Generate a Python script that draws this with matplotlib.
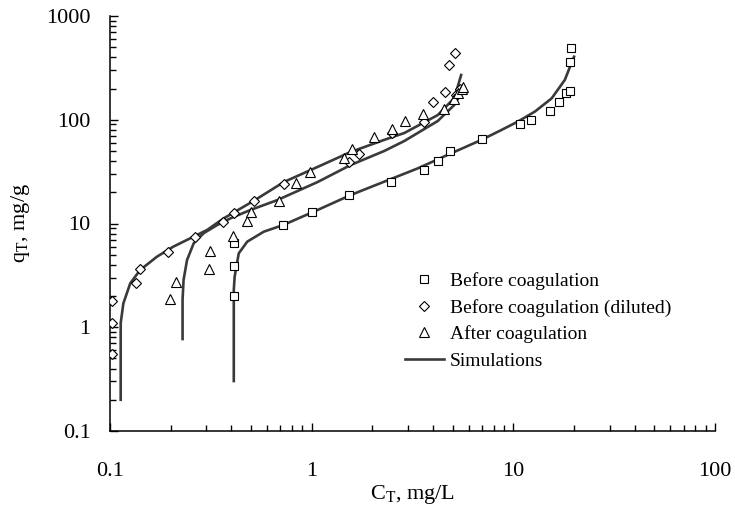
from matplotlib import pyplot as plt
from matplotlib.lines import Line2D
from matplotlib import ticker
import numpy as np

# measured points
BEFORE_C = [0.414, 0.414, 0.414, 0.723, 1.00, 1.53, 2.47, 3.59, 4.25, 4.86, 6.99,
            10.8, 12.2, 15.2, 16.9, 18.2, 19.0, 19.0, 19.4]
BEFORE_Q = [2.0, 3.89, 6.53, 9.6, 12.8, 18.7, 25.0, 32.8, 39.8, 50.3, 65.6,
            90.0, 98.8, 121, 148, 182, 191, 364, 488]

DILUTED_C = [0.102, 0.102, 0.102, 0.134, 0.1415, 0.194, 0.263, 0.365, 0.411, 0.515,
             0.728, 1.54, 1.71, 2.49, 3.61, 4.01, 4.60, 4.82, 5.13, 5.21, 5.45]
DILUTED_Q = [1.80, 1.09, 0.548, 2.69, 3.62, 5.31, 7.46, 10.3, 12.7, 16.5,
             24.0, 39.2, 47.1, 74.0, 94.5, 147, 184, 340, 440, 173, 198]

AFTER_C = [0.199, 0.213, 0.308, 0.315, 0.405, 0.476, 0.499, 0.688, 0.832, 0.985,
           1.45, 1.59, 2.03, 2.49, 2.89, 3.58, 4.52, 5.10, 5.34, 5.58, 5.62]
AFTER_Q = [1.86, 2.75, 3.62, 5.43, 7.58, 10.5, 12.9, 16.6, 24.4, 31.6,
           42.5, 52.6, 67.7, 80.9, 97.3, 113, 126, 157, 180, 196, 208]

# simulation curves
SIM_BEFORE_C = [0.411, 0.411, 0.415, 0.435, 0.479, 0.579, 0.723, 1.07, 1.56, 2.29, 3.36,
                4.92, 6.93, 8.72, 10.5, 12.8, 15.5, 18.0, 19.4, 20.0]
SIM_BEFORE_Q = [0.303, 2.29, 3.07, 5.16, 6.68, 8.34, 9.67, 13.5, 18.8, 25.3, 34.0,
                47.5, 63.8, 79.6, 95.7, 120, 161, 242, 350, 405]

SIM_DILUTED_C = [0.113, 0.113, 0.1165, 0.126, 0.141, 0.171, 0.206, 0.250, 0.303, 0.366,
                 0.515, 0.728, 1.07, 1.56, 2.28, 2.88, 4.22, 5.10, 5.51]
SIM_DILUTED_Q = [0.2, 1.10, 1.70, 2.65, 3.56, 4.79, 5.98, 7.2, 8.66, 11.2,
                 16.5, 25.1, 35.1, 48.9, 63.8, 74.5, 111, 162, 270]

SIM_AFTER_C = [0.229, 0.229, 0.2316, 0.241, 0.260, 0.291, 0.340, 0.395, 0.497, 0.675,
               1.07, 1.56, 2.29, 2.88, 4.22, 5.10, 5.72]
SIM_AFTER_Q = [0.77, 1.83, 2.85, 4.45, 6.44, 8.05, 9.67, 11.2, 13.5, 16.8,
               25.1, 36.6, 50.0, 62.4, 97.3, 139, 207]

LABELS = ['Before coagulation', 'Before coagulation (diluted)', 'After coagulation', 'Simulations']

plt.rcParams['font.family'] = ['Liberation Serif', 'DejaVu Serif']
plt.rcParams['mathtext.fontset'] = 'custom'
plt.rcParams['mathtext.rm'] = 'Liberation Serif'

fig = plt.figure(figsize=(7.35, 5.2), dpi=100)
ax = fig.add_axes([110/735, 1-431/520, 605/735, 415/520])

line_c = '#3a3a3a'
for cx, cy in [(SIM_BEFORE_C, SIM_BEFORE_Q), (SIM_DILUTED_C, SIM_DILUTED_Q), (SIM_AFTER_C, SIM_AFTER_Q)]:
    ax.plot(cx, cy, color=line_c, lw=1.9, zorder=2)

mk = dict(ls='none', mfc='white', mec='black', mew=0.8, zorder=3)
ax.plot(BEFORE_C, BEFORE_Q, marker='s', ms=5.5, **mk)
ax.plot(DILUTED_C, DILUTED_Q, marker='D', ms=5.0, **mk)
ax.plot(AFTER_C, AFTER_Q, marker='^', ms=6.5, **mk)

ax.set_xscale('log')
ax.set_yscale('log')
ax.set_xlim(0.1, 100)
ax.set_ylim(0.1, 1000)

fmt = ticker.FuncFormatter(lambda v, p: ('%g' % v))
ax.xaxis.set_major_formatter(fmt)
ax.yaxis.set_major_formatter(fmt)
ax.xaxis.set_minor_formatter(ticker.NullFormatter())
ax.yaxis.set_minor_formatter(ticker.NullFormatter())
ax.xaxis.set_minor_locator(ticker.LogLocator(base=10, subs=np.arange(2, 10)))
ax.yaxis.set_minor_locator(ticker.LogLocator(base=10, subs=np.arange(2, 10)))

for s in ['top', 'right']:
    ax.spines[s].set_visible(False)
for s in ['left', 'bottom']:
    ax.spines[s].set_linewidth(1.1)

ax.tick_params(which='major', direction='in', length=5.5, width=1.0, labelsize=16)
ax.tick_params(which='minor', direction='in', length=4, width=1.0)
ax.tick_params(axis='x', which='major', pad=22)
ax.tick_params(axis='y', which='major', pad=14)

ax.set_xlabel(r'C$_\mathregular{T}$, mg/L', fontsize=16, labelpad=2)
ax.set_ylabel(r'q$_\mathregular{T}$, mg/g', fontsize=16, labelpad=10)

handles = [
    Line2D([], [], marker='s', ms=5.5, **mk),
    Line2D([], [], marker='D', ms=5.0, **mk),
    Line2D([], [], marker='^', ms=6.5, **mk),
    Line2D([], [], color=line_c, lw=1.9),
]
ax.legend(handles, LABELS, loc='upper left', bbox_to_anchor=(405/735, 1-272/520),
          bbox_transform=fig.transFigure, frameon=False, fontsize=14,
          handlelength=2.0, handletextpad=0.3, labelspacing=0.45,
          borderpad=0, borderaxespad=0)

fig.savefig('out.png', dpi=100)
